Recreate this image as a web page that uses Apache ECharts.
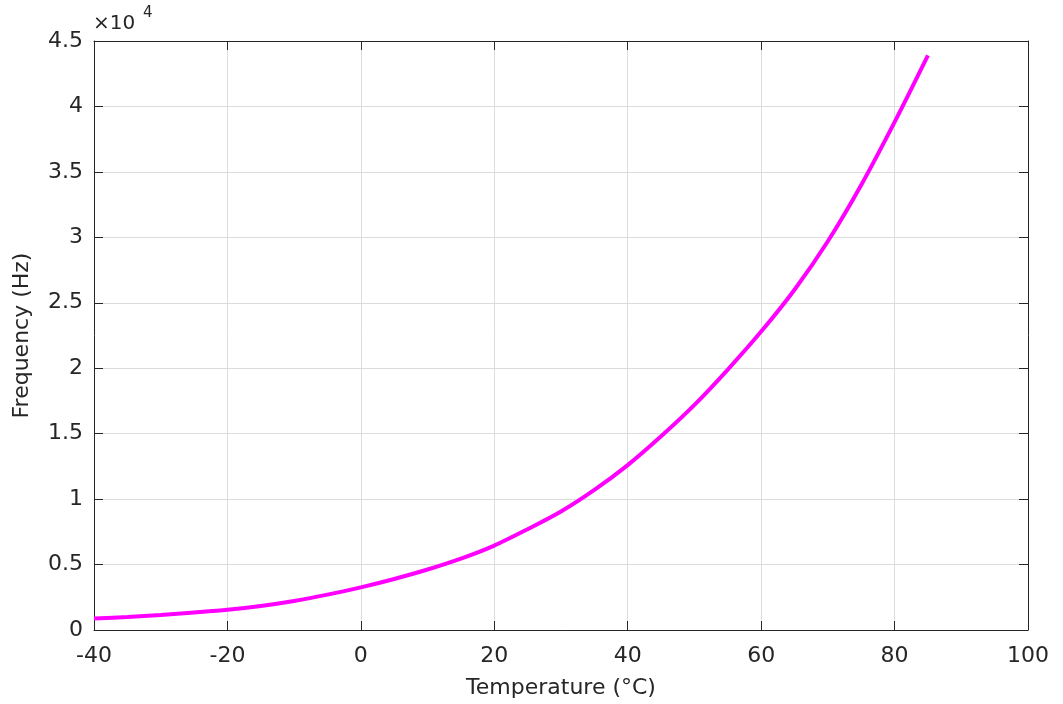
<!DOCTYPE html>
<html>
<head>
<meta charset="utf-8">
<script src="https://cdn.jsdelivr.net/npm/echarts@6/dist/echarts.min.js"></script>
<style>
  html, body { margin: 0; padding: 0; background: #ffffff; }
  #chart { width: 1063px; height: 704px; }
</style>
</head>
<body>
<div id="chart"></div>
<script>
// Oscillator frequency versus temperature
const temperatures = [-40, -35, -30, -25, -20, -15, -10, -5, 0, 5, 10, 15, 20, 25, 30, 35, 40, 45, 50, 55, 60, 65, 70, 75, 80, 85];
const frequencies = [870, 1000, 1150, 1340, 1550, 1840, 2220, 2700, 3260, 3900, 4620, 5450, 6450, 7700, 9050, 10700, 12600, 14800, 17200, 19900, 22800, 26000, 29700, 34000, 38800, 43900];

const xTicks = { min: -40, max: 100, step: 20 };
const yTicks = { min: 0, max: 45000, step: 5000 };
const yScale = 1e4;

const ink = '#262626';
const font = 'DejaVu Sans';
const labelSize = 22;

const chart = echarts.init(document.getElementById('chart'), null, { renderer: 'canvas' });

const lineData = temperatures.map((t, i) => [t, frequencies[i]]);

// top and right edges of the box: line plus inward ticks, no labels
const frameAxis = {
  axisLine: { show: true, onZero: false, lineStyle: { color: ink, width: 1 } },
  axisTick: { show: true, inside: true, length: 9, lineStyle: { color: ink, width: 1 } },
  axisLabel: { show: false },
  splitLine: { show: false }
};

chart.setOption({
  animation: false,
  backgroundColor: '#ffffff',
  grid: { left: 94, right: 35, top: 41, bottom: 73, containLabel: false },
  xAxis: [
    {
      type: 'value',
      min: xTicks.min, max: xTicks.max, interval: xTicks.step,
      position: 'bottom',
      name: 'Temperature (°C)',
      nameLocation: 'middle',
      nameGap: 47,
      nameTextStyle: { color: ink, fontFamily: font, fontSize: labelSize },
      axisLine: { show: true, onZero: false, lineStyle: { color: ink, width: 1 } },
      axisTick: { show: true, inside: true, length: 9, lineStyle: { color: ink } },
      axisLabel: { color: ink, fontFamily: font, fontSize: labelSize, margin: 15 },
      splitLine: { show: true, lineStyle: { color: '#dcdcdc', width: 1 } }
    },
    Object.assign({
      type: 'value',
      min: xTicks.min, max: xTicks.max, interval: xTicks.step,
      position: 'top'
    }, frameAxis)
  ],
  yAxis: [
    {
      type: 'value',
      min: yTicks.min, max: yTicks.max, interval: yTicks.step,
      position: 'left',
      name: 'Frequency (Hz)',
      nameLocation: 'middle',
      nameGap: 61,
      nameRotate: 90,
      nameTextStyle: { color: ink, fontFamily: font, fontSize: labelSize },
      axisLine: { show: true, onZero: false, lineStyle: { color: ink, width: 1 } },
      axisTick: { show: true, inside: true, length: 9, lineStyle: { color: ink } },
      axisLabel: {
        color: ink, fontFamily: font, fontSize: labelSize, margin: 11,
        formatter: v => String(+(v / yScale).toFixed(1))
      },
      splitLine: { show: true, lineStyle: { color: '#dcdcdc', width: 1 } }
    },
    Object.assign({
      type: 'value',
      min: yTicks.min, max: yTicks.max, interval: yTicks.step,
      position: 'right'
    }, frameAxis)
  ],
  graphic: [
    {
      type: 'text', left: 93, top: 14,
      style: { text: '×10', fill: ink, font: '20px "DejaVu Sans"' }
    },
    {
      type: 'text', left: 143, top: 6,
      style: { text: '4', fill: ink, font: '15px "DejaVu Sans"' }
    }
  ],
  series: [
    {
      type: 'line',
      data: lineData,
      smooth: 0.3,
      showSymbol: false,
      lineStyle: { color: '#ff00ff', width: 4 },
      itemStyle: { color: '#ff00ff' },
      z: 5
    }
  ]
});
</script>
</body>
</html>
